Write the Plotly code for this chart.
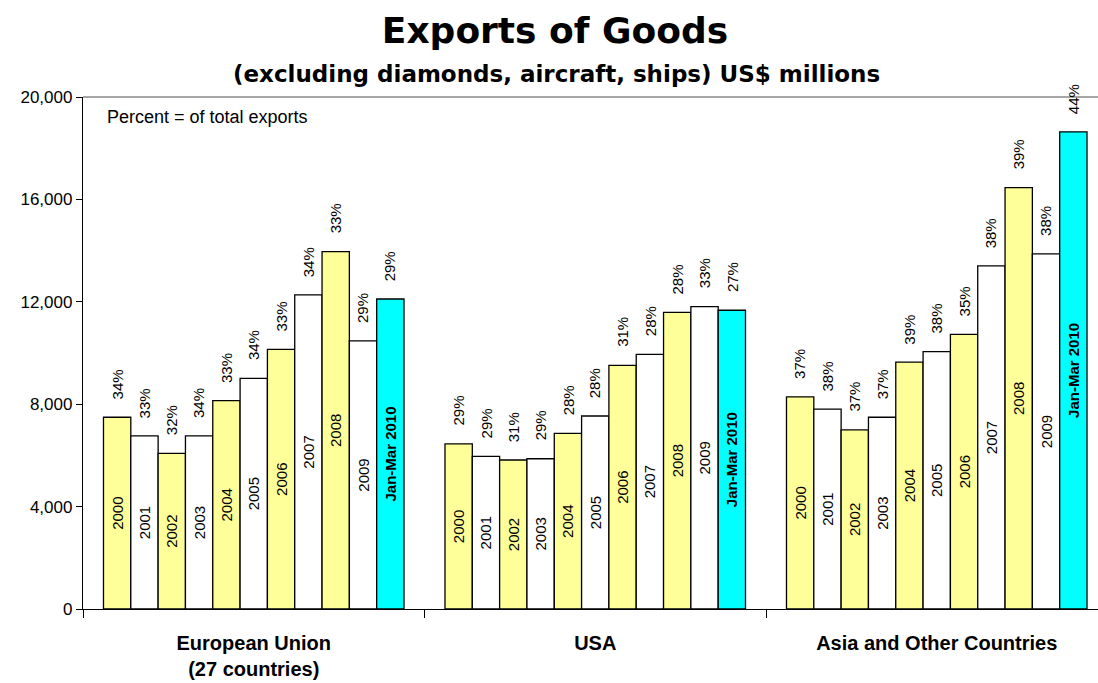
import plotly.graph_objects as go

# ---- data ----
groups = ["European Union<br>(27 countries)", "USA", "Asia and Other Countries"]
periods = ["2000", "2001", "2002", "2003", "2004", "2005", "2006", "2007", "2008", "2009", "Jan-Mar 2010"]

eu_values = [7490, 6760, 6080, 6760, 8140, 9010, 10140, 12270, 13960, 10470, 12110]
usa_values = [6450, 5960, 5820, 5870, 6860, 7540, 9520, 9950, 11590, 11810, 11670]
asia_values = [8290, 7810, 7000, 7490, 9640, 10050, 10730, 13400, 16460, 13870, 18640]

eu_pct = [34, 33, 32, 34, 33, 34, 33, 34, 33, 29, 29]
usa_pct = [29, 29, 31, 29, 28, 28, 31, 28, 28, 33, 27]
asia_pct = [37, 38, 37, 37, 39, 38, 35, 38, 39, 38, 44]

y_ticks = [0, 4000, 8000, 12000, 16000, 20000]

values = [eu_values, usa_values, asia_values]
pcts = [eu_pct, usa_pct, asia_pct]

# ---- layout helpers ----
GROUP_W = 12.5     # group width in bar units
PAD = 0.75         # space before first bar in each group
N = len(periods)

YELLOW = "#FFFF99"
WHITE = "#FFFFFF"
CYAN = "#00FFFF"

FONT = "Arial, 'Liberation Sans', sans-serif"
TFONT = "'DejaVu Sans', Arial, sans-serif"

W, H = 1098, 683
L, R, T, B = 83, 0, 97, 74
PW = W - L - R


def bar_x(g, i):
    return g * GROUP_W + PAD + i + 0.5


fig = go.Figure()
annotations = []

for i, p in enumerate(periods):
    last = i == N - 1
    color = CYAN if last else (YELLOW if i % 2 == 0 else WHITE)
    label = f"<b>{p}</b>" if last else p
    xs = [bar_x(g, i) for g in range(len(groups))]
    ys = [values[g][i] for g in range(len(groups))]
    fig.add_trace(go.Bar(
        x=xs, y=ys, width=1.0,
        marker=dict(color=color, line=dict(color="black", width=1.3)),
        text=[label] * len(groups),
        textposition="inside",
        insidetextanchor="middle",
        textangle=-90,
        insidetextfont=dict(family=FONT, size=15, color="black"),
        constraintext="none",
        hoverinfo="skip",
        showlegend=False,
    ))
    for g in range(len(groups)):
        annotations.append(dict(
            x=bar_x(g, i), y=values[g][i], xref="x", yref="y",
            text=f"{pcts[g][i]}%", showarrow=False, textangle=-90,
            xanchor="center", yanchor="bottom", yshift=16,
            font=dict(family=FONT, size=15, color="black"),
        ))

annotations.append(dict(
    x=(105 - L) / PW, y=(609 - 117) / 512, xref="paper", yref="paper",
    text="Percent = of total exports", showarrow=False,
    xanchor="left", yanchor="middle",
    font=dict(family=FONT, size=18, color="black"),
))
annotations.append(dict(
    x=(556 - L) / PW, y=(609 - 74) / 512, xref="paper", yref="paper",
    text="<b>(excluding diamonds, aircraft, ships) US$ millions</b>", showarrow=False,
    xanchor="center", yanchor="middle",
    font=dict(family=TFONT, size=23, color="black"),
))

group_centers = [g * GROUP_W + GROUP_W / 2 for g in range(len(groups))]
group_labels = ["<b>" + g + "</b>" for g in groups]

fig.update_layout(
    width=W, height=H,
    margin=dict(l=L, r=R, t=T, b=B, autoexpand=False),
    paper_bgcolor="white", plot_bgcolor="white",
    barmode="overlay",
    title=dict(
        text="<b>Exports of Goods</b>",
        x=555 / W, xanchor="center",
        y=1 - 30 / H, yanchor="middle", yref="container",
        font=dict(family=TFONT, size=36, color="black"),
    ),
    xaxis=dict(
        range=[0, PW / 27.32],
        tickmode="array", tickvals=group_centers, ticktext=group_labels,
        ticks="outside", ticklen=16, tickcolor="rgba(0,0,0,0)",
        tickfont=dict(family=FONT, size=20, color="black"),
        showline=True, linecolor="black", linewidth=1.3,
        showgrid=False, zeroline=False, automargin=False,
        minor=dict(ticks="outside", ticklen=8, tickcolor="black", tickwidth=1,
                   tickmode="linear", tick0=0, dtick=GROUP_W, showgrid=False),
        fixedrange=True,
    ),
    yaxis=dict(
        range=[0, 20000],
        tickmode="array", tickvals=y_ticks,
        tickformat=",",
        ticks="outside", ticklen=6, tickcolor="black",
        tickfont=dict(family=FONT, size=17, color="black"),
        showline=True, linecolor="black", linewidth=1.3,
        showgrid=False, zeroline=False, automargin=False,
        fixedrange=True,
    ),
    shapes=[dict(type="line", xref="paper", yref="paper", x0=0, x1=1, y0=1, y1=1,
                 line=dict(color="#888888", width=1.5))],
    annotations=annotations,
)

fig.write_html("out.html")
